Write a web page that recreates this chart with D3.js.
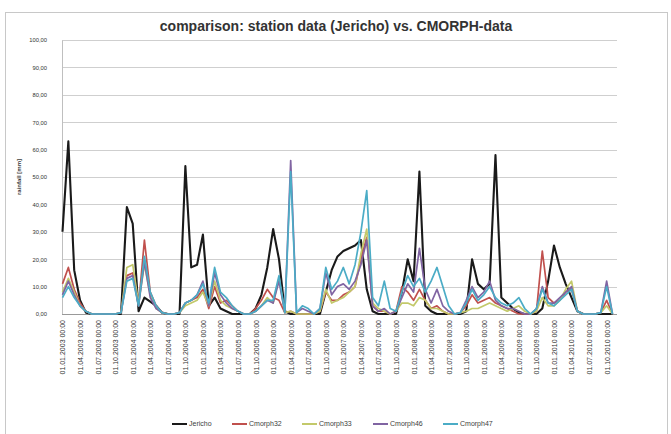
<!DOCTYPE html>
<html><head><meta charset="utf-8">
<script src="https://cdn.jsdelivr.net/npm/d3@7"></script>
<style>body{margin:0;background:#fff}</style>
</head><body><svg id="c" width="671" height="434"></svg>
<script>
const categories = [
"01.01.2003 00:00","01.02.2003 00:00","01.03.2003 00:00","01.04.2003 00:00","01.05.2003 00:00","01.06.2003 00:00","01.07.2003 00:00","01.08.2003 00:00","01.09.2003 00:00","01.10.2003 00:00","01.11.2003 00:00","01.12.2003 00:00",
"01.01.2004 00:00","01.02.2004 00:00","01.03.2004 00:00","01.04.2004 00:00","01.05.2004 00:00","01.06.2004 00:00","01.07.2004 00:00","01.08.2004 00:00","01.09.2004 00:00","01.10.2004 00:00","01.11.2004 00:00","01.12.2004 00:00",
"01.01.2005 00:00","01.02.2005 00:00","01.03.2005 00:00","01.04.2005 00:00","01.05.2005 00:00","01.06.2005 00:00","01.07.2005 00:00","01.08.2005 00:00","01.09.2005 00:00","01.10.2005 00:00","01.11.2005 00:00","01.12.2005 00:00",
"01.01.2006 00:00","01.02.2006 00:00","01.03.2006 00:00","01.04.2006 00:00","01.05.2006 00:00","01.06.2006 00:00","01.07.2006 00:00","01.08.2006 00:00","01.09.2006 00:00","01.10.2006 00:00","01.11.2006 00:00","01.12.2006 00:00",
"01.01.2007 00:00","01.02.2007 00:00","01.03.2007 00:00","01.04.2007 00:00","01.05.2007 00:00","01.06.2007 00:00","01.07.2007 00:00","01.08.2007 00:00","01.09.2007 00:00","01.10.2007 00:00","01.11.2007 00:00","01.12.2007 00:00",
"01.01.2008 00:00","01.02.2008 00:00","01.03.2008 00:00","01.04.2008 00:00","01.05.2008 00:00","01.06.2008 00:00","01.07.2008 00:00","01.08.2008 00:00","01.09.2008 00:00","01.10.2008 00:00","01.11.2008 00:00","01.12.2008 00:00",
"01.01.2009 00:00","01.02.2009 00:00","01.03.2009 00:00","01.04.2009 00:00","01.05.2009 00:00","01.06.2009 00:00","01.07.2009 00:00","01.08.2009 00:00","01.09.2009 00:00","01.10.2009 00:00","01.11.2009 00:00","01.12.2009 00:00",
"01.01.2010 00:00","01.02.2010 00:00","01.03.2010 00:00","01.04.2010 00:00","01.05.2010 00:00","01.06.2010 00:00","01.07.2010 00:00","01.08.2010 00:00","01.09.2010 00:00","01.10.2010 00:00","01.11.2010 00:00"
];
const jericho = [30,63,16,5,0.5,0,0,0,0,0, 0,39,33,1,6,4.5,3,0.5,0,0, 0,54,17,18,29,3,6,2,1,0, 0,0,0,2,7,17,31,20,1,0, 0,0,0,0,0,8,16,21,23,24, 25,27,9,1,0,0,0,0,8,20, 12,52,3,1,0,0,0,0,0,1, 20,11,9,11,58,6,4,2,0.5,0, 0,0,2,12,25,17,11,6,1,0, 0,0,0,0,0];
const cmorph32 = [11,17,9,4,1,0,0,0,0,0, 0.5,14,15,3,27,8,3,0.5,0,0, 0.5,4,5,6,9,2,10,4,5,3, 1,0,0,2,5,9,6,5,0.5,1, 0,0,0,0,1,8,5,5,7,8, 10,20,28,3,1,1,0,1,10,8, 5,9,5,2,3,1,0,0,0.5,3, 7,4,5,6,4,3,2,1,0,0, 0,1,23,6,4,5,8,9,1,0, 0,0,0.5,5,0];
const cmorph33 = [8,13,8,3,1,0,0,0,0,0, 0.5,17,18,4,18,7,2,0.5,0,0, 0.5,3,4,5,8,3,12,5,3,2, 1,0,0,1,3,6,4,13,0.5,1, 0,0,0,0,1,9,4,5,6,8, 10,22,31,4,2,1,0,1,4,4, 3,6,5,2,2,1,0,0,0.5,1, 2,2,3,4,3,2,1,2,3,1, 0,1,6,3,3,5,9,12,1,0, 0,0,0.5,3,0];
const cmorph46 = [7,12,7,3,1,0,0,0,0,0, 0.5,13,14,3,19,6,2,0.5,0,0, 0.5,4,5,7,12,3,15,7,4,2, 1,0,0,1,3,5,4,12,0.5,56, 0.5,2,1,0,2,15,7,10,11,9, 12,18,27,3,1,2,0,1,6,11, 8,24,9,4,9,3,1,0,0.5,5, 10,6,8,12,5,3,2,2,1,0, 0,2,10,4,4,6,8,10,1,0, 0,0,0.5,12,0];
const cmorph47 = [6,10,6,3,1,0,0,0,0,0, 0.5,12,13,3,21,8,3,0.5,0,0, 0.5,4,5,7,11,4,17,8,6,3, 1,0,0,1,3,5,5,14,0.5,52, 0.5,3,2,0,2,17,9,12,17,11, 18,30,45,6,3,12,2,1,8,14, 10,13,8,12,17,10,3,0,0.5,4, 9,5,7,10,6,4,3,4,6,2, 0,2,9,4,3,5,7,9,1,0, 0,0,0.5,10,0];
const seriesNames = ["Jericho","Cmorph32","Cmorph33","Cmorph46","Cmorph47"];
const yTicks = [0,10,20,30,40,50,60,70,80,90,100];
const titleText = "comparison: station data (Jericho) vs. CMORPH-data";
const yTitleText = "rainfall [mm]";

const seriesValues = [jericho, cmorph32, cmorph33, cmorph46, cmorph47];
const colors = ["#1a1a1a","#c0504d","#c3c96a","#8064a2","#4bacc6"];

const svg = d3.select("#c");
const font = "Liberation Sans, Arial, sans-serif";

svg.append("rect").attr("x",5.5).attr("y",12.5).attr("width",662).attr("height",440)
  .attr("fill","#fff").attr("stroke","#c8c8c8");

const x = d3.scalePoint().domain(categories).range([62.5, 612.5]);
const y = d3.scaleLinear().domain([0,100]).range([314, 40]);

svg.append("g").selectAll("line").data(yTicks.slice(1)).join("line")
  .attr("x1",62).attr("x2",617).attr("y1",d=>Math.round(y(d))+0.5).attr("y2",d=>Math.round(y(d))+0.5)
  .attr("stroke","#cfcfcf").attr("stroke-width",1.2);

const fmt = d => d3.format(".2f")(d).replace(".", ",");
const yAxis = d3.axisLeft(y).tickValues(yTicks).tickFormat(fmt).tickSize(0).tickPadding(15);
const gy = svg.append("g").attr("transform","translate(62,0)").call(yAxis);
gy.select(".domain").attr("stroke","#bfbfbf");
gy.selectAll("text").attr("font-family",font).attr("font-size",5.8).attr("fill","#333");

const xAxis = d3.axisBottom(x).tickValues(categories.filter((d,i)=>i%3===0)).tickSize(0).tickPadding(0);
const gx = svg.append("g").attr("transform","translate(0,314)").call(xAxis);
gx.select(".domain").attr("stroke","#999").attr("d","M62,0.5H617");
gx.selectAll("text").attr("font-family",font).attr("font-size",7).attr("fill","#333")
  .attr("text-anchor","end").attr("transform","rotate(-90)").attr("dy","0.35em").attr("x",-6).attr("y",0);

const line = d3.line().x((d,i)=>x(categories[i])).y(d=>y(d));
seriesValues.forEach((vals,k)=>{
  svg.append("path").datum(vals).attr("d",line).attr("fill","none")
    .attr("stroke",colors[k]).attr("stroke-width",k===0?2.1:1.7).attr("stroke-linejoin","round");
});

svg.append("text").attr("x",336).attr("y",31).attr("text-anchor","middle")
  .attr("font-family",font).attr("font-weight","bold").attr("font-size",14).attr("fill","#333")
  .text(titleText);

svg.append("text").attr("transform","translate(21,177) rotate(-90)").attr("text-anchor","middle")
  .attr("font-family",font).attr("font-weight","bold").attr("font-size",6).attr("fill","#404040")
  .text(yTitleText);

const legX = [172, 232, 302, 373, 443];
const leg = svg.append("g").selectAll("g").data(seriesNames).join("g")
  .attr("transform",(d,i)=>`translate(${legX[i]},424)`);
leg.append("line").attr("x1",0).attr("x2",15).attr("y1",0).attr("y2",0)
  .attr("stroke",(d,i)=>colors[i]).attr("stroke-width",2);
leg.append("text").attr("x",17).attr("y",0).attr("dy","0.35em")
  .attr("font-family",font).attr("font-size",7).attr("fill","#404040").text(d=>d);
</script>
</body></html>
